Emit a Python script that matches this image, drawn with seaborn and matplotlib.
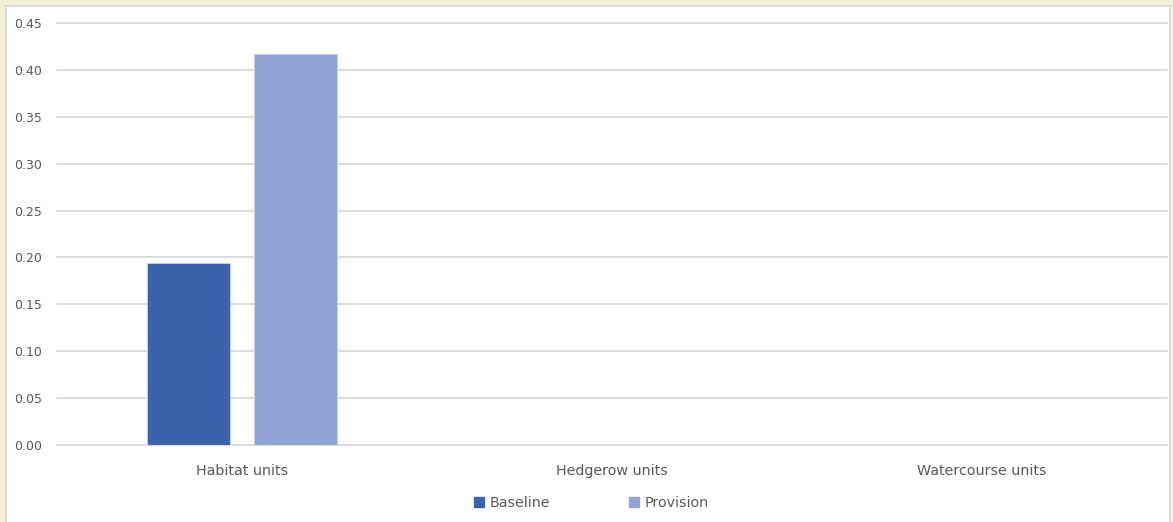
import matplotlib
matplotlib.use("Agg")
import matplotlib.pyplot as plt
import seaborn as sns
import pandas as pd
from matplotlib.patches import Rectangle
from matplotlib.lines import Line2D

categories = ["Habitat units", "Hedgerow units", "Watercourse units"]
series = ["Baseline", "Provision"]
baseline = [0.194, 0.0, 0.0]
provision = [0.417, 0.0, 0.0]
yticks = [0.00, 0.05, 0.10, 0.15, 0.20, 0.25, 0.30, 0.35, 0.40, 0.45]
colors = ["#3A63AB", "#8FA3D4"]

df = pd.DataFrame({
    "category": categories * 2,
    "series": [series[0]] * 3 + [series[1]] * 3,
    "value": baseline + provision,
})

sns.set_theme(style="white")
plt.rcParams["font.family"] = ["DejaVu Sans"]

fig = plt.figure(figsize=(11.73, 5.22), dpi=100)
fig.patch.set_facecolor("#F2EFDB")
fig.patches.append(Rectangle((6 / 1173, -0.01), 1164 / 1173, 1 - 6 / 522 + 0.01,
                             transform=fig.transFigure, facecolor="white",
                             edgecolor="#D9D9D9", linewidth=1.2, zorder=-10))

ax = fig.add_axes([57 / 1173, 1 - 445 / 522, 1110 / 1173, 422 / 522])
ax.set_facecolor("none")
ax.set_zorder(1)
sns.barplot(data=df, x="category", y="value", hue="series", palette=colors,
            width=0.576, gap=0.222, ax=ax, legend=False, saturation=1,
            edgecolor="#C9D3EA", linewidth=0.6)

ax.set_ylim(0, 0.45)
ax.set_yticks(yticks)
ax.set_yticklabels([f"{t:.2f}" for t in yticks])
ax.set_xlim(-0.5, 2.5)
ax.yaxis.grid(True, color="#D9D9D9", linewidth=1.3)
for gl in ax.get_ygridlines():
    gl.set_clip_on(False)
ax.set_axisbelow(True)
for s in ax.spines.values():
    s.set_visible(False)
ax.tick_params(axis="y", length=0, pad=11, labelsize=9, labelcolor="#595959")
ax.tick_params(axis="x", length=0, pad=14, labelsize=10.3, labelcolor="#595959")
ax.set_xlabel("")
ax.set_ylabel("")

handles = [Line2D([], [], marker="s", linestyle="none", markersize=7,
                  markerfacecolor=c, markeredgecolor=c) for c in colors]
leg = fig.legend(handles, series, loc="center", bbox_to_anchor=(591 / 1173, 1 - 503 / 522),
                 ncol=2, frameon=False, fontsize=10.3, labelcolor="#595959",
                 handlelength=0.7, handletextpad=0.4, columnspacing=5.5)
leg.set_zorder(2)

fig.savefig("out.png", dpi=100, facecolor=fig.get_facecolor())
